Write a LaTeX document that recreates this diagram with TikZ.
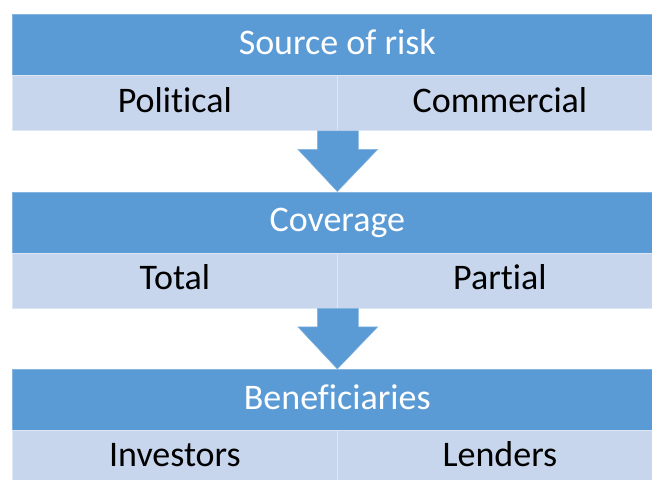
\documentclass[tikz,border=0pt]{standalone}
\usepackage{fontspec}
\setmainfont[Ligatures=NoCommon]{Carlito}
\usetikzlibrary{calc}
\definecolor{hdr}{HTML}{5B9BD5}
\definecolor{cellc}{HTML}{C7D6EC}
\tikzset{
  box/.style={anchor=north west, inner sep=0pt, text height=25pt, text depth=6pt,
    font=\fontsize{36pt}{40pt}\selectfont},
  hdrbox/.style={box, fill=hdr, draw=white!25!hdr, line width=0.6pt, text=white,
    minimum width=650pt, minimum height=61pt},
  cellbox/.style={box, fill=cellc, draw=white!40!cellc, line width=0.8pt, text=black,
    minimum width=325pt, minimum height=55pt},
  blockarrow/.style={fill=hdr, draw=white!25!hdr, line width=0.5pt}
}
\newcommand{\blockarr}[2]{%
  \path[blockarrow] ($(#1)+(-20.5,0)$) -- ($(#1)+(20.5,0)$) -- ($(#1)+(20.5,18.5)$)
    -- ($(#1)+(40,18.5)$) -- (#2) -- ($(#1)+(-40,18.5)$) -- ($(#1)+(-20.5,18.5)$) -- cycle;}
\begin{document}
\begin{tikzpicture}[x=1pt,y=-1pt]
\useasboundingbox (0,0) rectangle (652,479);
\clip (0,0) rectangle (652,479);
% level 1
\node[hdrbox] (h1) at (12,14) {Source of risk};
\node[cellbox] (r1l) at (12,75) {Political};
\node[cellbox] (r1r) at (337,75) {Commercial};
% level 2
\node[hdrbox] (h2) at (12,191.5) {Coverage};
\node[cellbox] (r2l) at (12,252.5) {Total};
\node[cellbox] (r2r) at (337,252.5) {Partial};
% level 3
\node[hdrbox] (h3) at (12,369) {Beneficiaries};
\node[cellbox] (r3l) at (12,429.5) {Investors};
\node[cellbox] (r3r) at (337,429.5) {Lenders};
% arrows
\coordinate (a1top) at (r1l.south east);
\coordinate (a1tip) at (h2.north);
\coordinate (a2top) at (r2l.south east);
\coordinate (a2tip) at (h3.north);
\blockarr{a1top}{a1tip}
\blockarr{a2top}{a2tip}
\end{tikzpicture}
\end{document}
